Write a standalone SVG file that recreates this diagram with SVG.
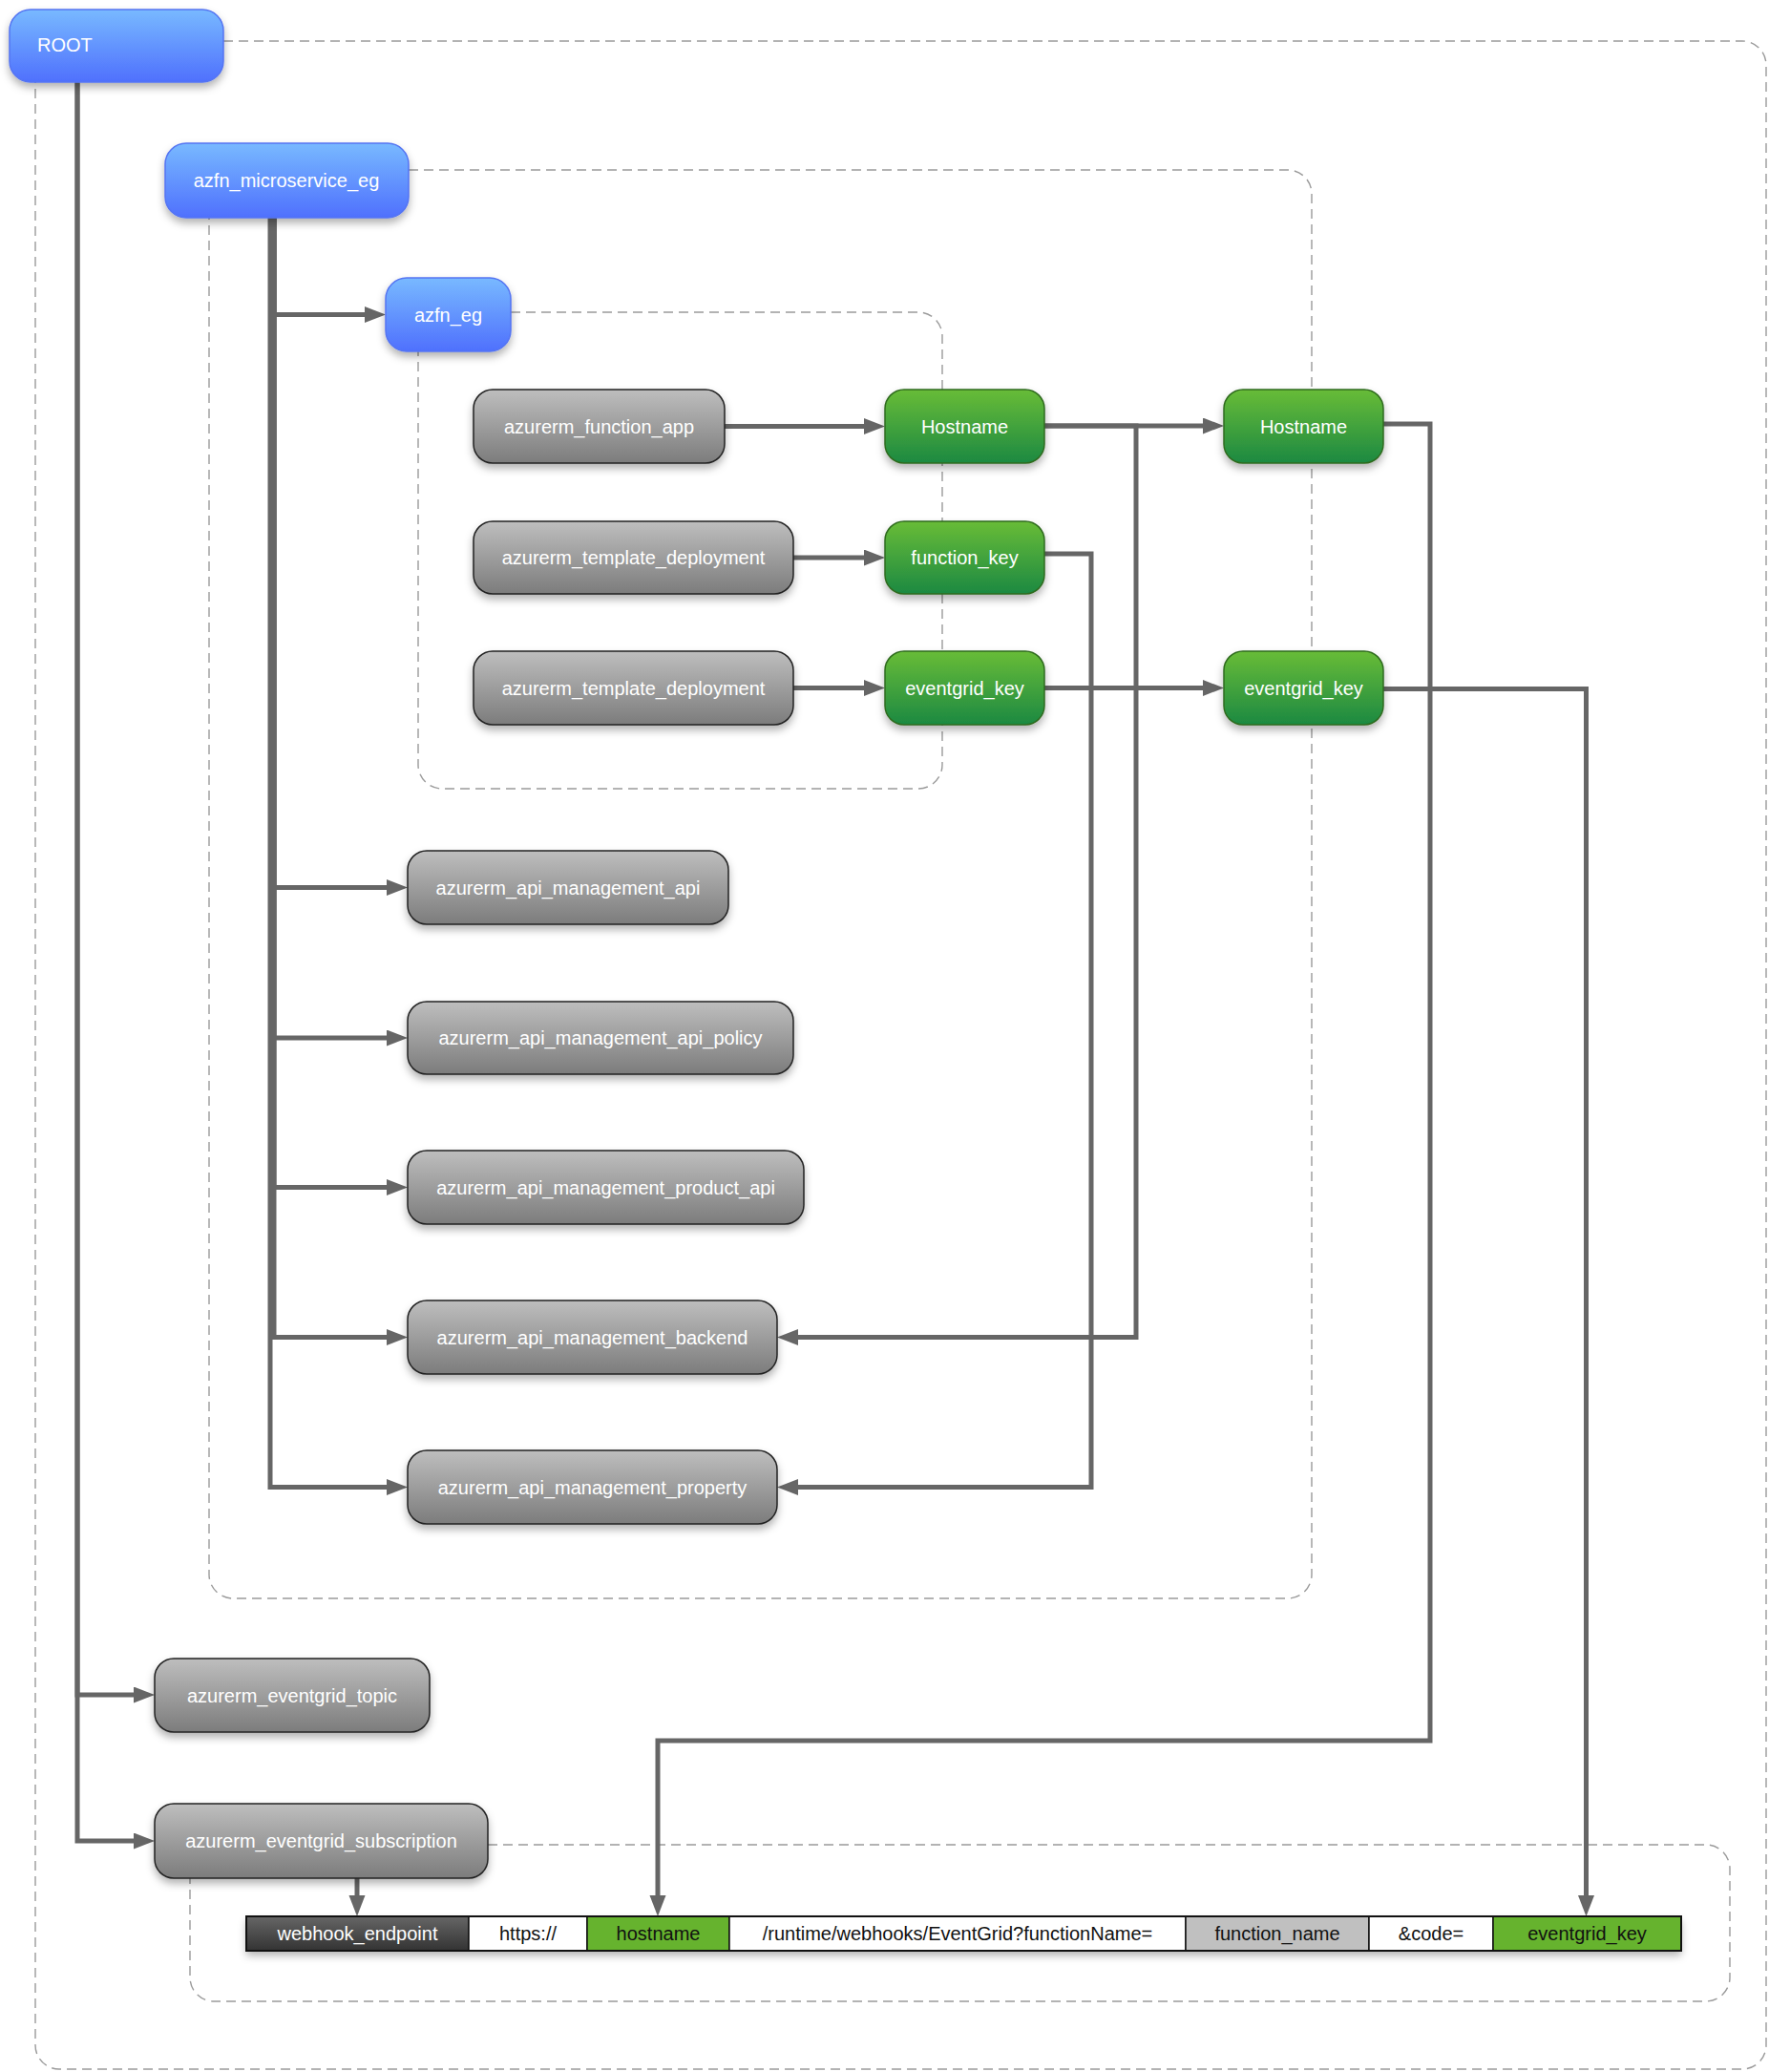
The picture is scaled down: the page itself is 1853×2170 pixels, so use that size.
<svg xmlns="http://www.w3.org/2000/svg" width="1853" height="2170" viewBox="0 0 1853 2170">
<defs>
<linearGradient id="gBlue" x1="0" y1="0" x2="0" y2="1"><stop offset="0" stop-color="#78b9ff"/><stop offset="1" stop-color="#4f70fd"/></linearGradient>
<linearGradient id="gGray" x1="0" y1="0" x2="0" y2="1"><stop offset="0" stop-color="#bebebe"/><stop offset="1" stop-color="#7c7c7c"/></linearGradient>
<linearGradient id="gGreen" x1="0" y1="0" x2="0" y2="1"><stop offset="0" stop-color="#68bc37"/><stop offset="1" stop-color="#1c8942"/></linearGradient>
<linearGradient id="gDark" x1="0" y1="0" x2="0" y2="1"><stop offset="0" stop-color="#666"/><stop offset="1" stop-color="#333"/></linearGradient>
<filter id="sh" x="-10%" y="-20%" width="120%" height="160%"><feDropShadow dx="0" dy="5" stdDeviation="4" flood-color="#000" flood-opacity="0.3"/></filter>
<marker id="arr" markerUnits="userSpaceOnUse" markerWidth="22" markerHeight="18" refX="2" refY="8.5" orient="auto"><path d="M0,0 L22,8.5 L0,17 z" fill="#666"/></marker>
</defs>
<style>
.cont{fill:none;stroke:#9a9a9a;stroke-width:1.4;stroke-dasharray:10,6}
.blue{fill:url(#gBlue);stroke:#5474f2;stroke-width:1.5;filter:url(#sh)}
.gray{fill:url(#gGray);stroke:#222;stroke-width:1.5;filter:url(#sh)}
.green{fill:url(#gGreen);stroke:#2f6b1f;stroke-width:1.5;filter:url(#sh)}
.t{font-family:"Liberation Sans",Arial,Helvetica,sans-serif;font-size:20px;fill:#fff;text-anchor:middle;dominant-baseline:central}
.tb{font-family:"Liberation Sans",Arial,Helvetica,sans-serif;font-size:20px;fill:#111;text-anchor:middle;dominant-baseline:central}
.e{fill:none;stroke:#666;stroke-width:5;marker-end:url(#arr)}
.cell{stroke:#111;stroke-width:1.5}
</style>
<rect width="1853" height="2170" fill="#fff"/>
<g id="containers">
<path class="cont" d="M234,43 H1825 A25,25 0 0 1 1850,68 V2142 A25,25 0 0 1 1825,2167 H62 A25,25 0 0 1 37,2142 V86"/>
<path class="cont" d="M428,178 H1349 A25,25 0 0 1 1374,203 V1649 A25,25 0 0 1 1349,1674 H244 A25,25 0 0 1 219,1649 V228"/>
<path class="cont" d="M535,327 H962 A25,25 0 0 1 987,352 V801 A25,25 0 0 1 962,826 H463 A25,25 0 0 1 438,801 V368"/>
<path class="cont" d="M511,1932 H1787 A25,25 0 0 1 1812,1957 V2071 A25,25 0 0 1 1787,2096 H224 A25,25 0 0 1 199,2071 V1967"/>
</g>
<g id="connectors">
<path class="e" d="M81,86 V1775 H142"/>
<path class="e" d="M81,86 V1928 H142"/>
<path class="e" d="M287,228 V329.5 H384"/>
<path class="e" d="M287,228 V929.5 H407"/>
<path class="e" d="M287,228 V1087 H407"/>
<path class="e" d="M287,228 V1243.5 H407"/>
<path class="e" d="M287,228 V1400.5 H407"/>
<path class="e" d="M283,228 V1557.5 H407"/>
<path class="e" d="M759,446.5 H907"/>
<path class="e" d="M831,584 H907"/>
<path class="e" d="M831,720.5 H907"/>
<path class="e" d="M1094,446 H1262"/>
<path class="e" d="M1094,446 H1190 V1400.5 H834"/>
<path class="e" d="M1094,580 H1143 V1557.5 H834"/>
<path class="e" d="M1094,720.5 H1262"/>
<path class="e" d="M1449,444 H1498 V1823 H689 V1987"/>
<path class="e" d="M1449,721.5 H1661.5 V1987"/>
<path class="e" d="M374,1967 V1987"/>
</g>
<g id="root"><rect class="blue" x="10" y="10" width="224" height="76" rx="22"/><text class="t" x="39" y="47" style="text-anchor:start">ROOT</text></g>
<g id="azfn_microservice_eg"><rect class="blue" x="173" y="150" width="255" height="78" rx="22"/><text class="t" x="300" y="189">azfn_microservice_eg</text></g>
<g id="azfn_eg"><rect class="blue" x="404" y="291" width="131" height="77" rx="22"/><text class="t" x="469.5" y="329.5">azfn_eg</text></g>
<g id="azurerm_function_app"><rect class="gray" x="496" y="408" width="263" height="77" rx="20"/><text class="t" x="627.5" y="446.5">azurerm_function_app</text></g>
<g id="azurerm_template_deployment_1"><rect class="gray" x="496" y="546" width="335" height="76" rx="20"/><text class="t" x="663.5" y="584">azurerm_template_deployment</text></g>
<g id="azurerm_template_deployment_2"><rect class="gray" x="496" y="682" width="335" height="77" rx="20"/><text class="t" x="663.5" y="720.5">azurerm_template_deployment</text></g>
<g id="hostname_1"><rect class="green" x="927" y="408" width="167" height="77" rx="20"/><text class="t" x="1010.5" y="446.5">Hostname</text></g>
<g id="function_key"><rect class="green" x="927" y="546" width="167" height="76" rx="20"/><text class="t" x="1010.5" y="584">function_key</text></g>
<g id="eventgrid_key_1"><rect class="green" x="927" y="682" width="167" height="77" rx="20"/><text class="t" x="1010.5" y="720.5">eventgrid_key</text></g>
<g id="hostname_2"><rect class="green" x="1282" y="408" width="167" height="77" rx="20"/><text class="t" x="1365.5" y="446.5">Hostname</text></g>
<g id="eventgrid_key_2"><rect class="green" x="1282" y="682" width="167" height="77" rx="20"/><text class="t" x="1365.5" y="720.5">eventgrid_key</text></g>
<g id="azurerm_api_management_api"><rect class="gray" x="427" y="891" width="336" height="77" rx="20"/><text class="t" x="595" y="929.5">azurerm_api_management_api</text></g>
<g id="azurerm_api_management_api_policy"><rect class="gray" x="427" y="1049" width="404" height="76" rx="20"/><text class="t" x="629" y="1087">azurerm_api_management_api_policy</text></g>
<g id="azurerm_api_management_product_api"><rect class="gray" x="427" y="1205" width="415" height="77" rx="20"/><text class="t" x="634.5" y="1243.5">azurerm_api_management_product_api</text></g>
<g id="azurerm_api_management_backend"><rect class="gray" x="427" y="1362" width="387" height="77" rx="20"/><text class="t" x="620.5" y="1400.5">azurerm_api_management_backend</text></g>
<g id="azurerm_api_management_property"><rect class="gray" x="427" y="1519" width="387" height="77" rx="20"/><text class="t" x="620.5" y="1557.5">azurerm_api_management_property</text></g>
<g id="azurerm_eventgrid_topic"><rect class="gray" x="162" y="1737" width="288" height="77" rx="20"/><text class="t" x="306" y="1775.5">azurerm_eventgrid_topic</text></g>
<g id="azurerm_eventgrid_subscription"><rect class="gray" x="162" y="1889" width="349" height="78" rx="20"/><text class="t" x="336.5" y="1928">azurerm_eventgrid_subscription</text></g>
<g id="webhook_endpoint">
<rect x="258" y="2007" width="1503" height="36" fill="#fff" filter="url(#sh)"/>
<rect class="cell" x="258" y="2007" width="233" height="36" fill="url(#gDark)"/>
<rect class="cell" x="491" y="2007" width="124" height="36" fill="#fff"/>
<rect class="cell" x="615" y="2007" width="149" height="36" fill="#66b32e"/>
<rect class="cell" x="764" y="2007" width="478" height="36" fill="#fff"/>
<rect class="cell" x="1242" y="2007" width="192" height="36" fill="#c0c0c0"/>
<rect class="cell" x="1434" y="2007" width="130" height="36" fill="#fff"/>
<rect class="cell" x="1564" y="2007" width="197" height="36" fill="#66b32e"/>
<rect x="258" y="2007" width="1503" height="36" fill="none" stroke="#111" stroke-width="2"/>
<text class="t" x="374.5" y="2025">webhook_endpoint</text>
<text class="tb" x="553" y="2025">https://</text>
<text class="tb" x="689.5" y="2025">hostname</text>
<text class="tb" x="1003" y="2025">/runtime/webhooks/EventGrid?functionName=</text>
<text class="tb" x="1338" y="2025">function_name</text>
<text class="tb" x="1499" y="2025">&amp;code=</text>
<text class="tb" x="1662.5" y="2025">eventgrid_key</text>
</g>
</svg>
